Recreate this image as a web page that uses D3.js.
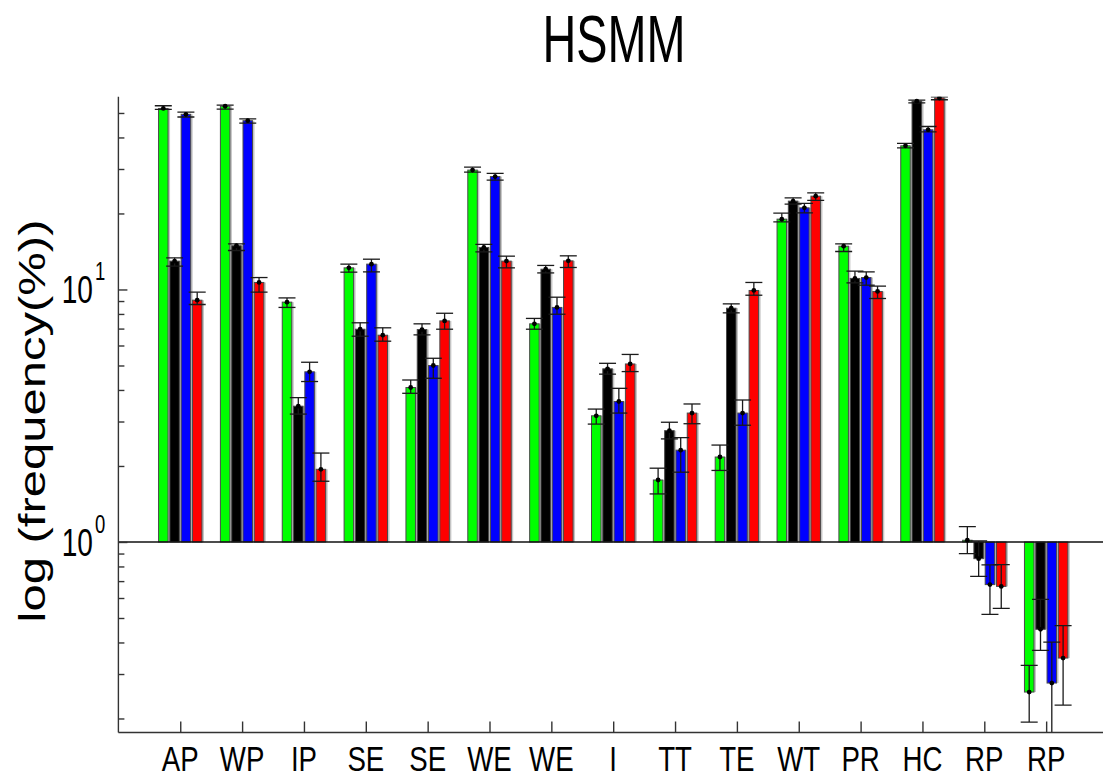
<!DOCTYPE html>
<html>
<head>
<meta charset="utf-8">
<script src="https://cdn.jsdelivr.net/npm/d3@7"></script>
<style>
  html, body { margin: 0; padding: 0; background: #fff; }
  svg { display: block; }
  text { font-family: Arial, "Liberation Sans", sans-serif; fill: #000; }
</style>
</head>
<body>
<script>
// ---- data ----
const categories = ["AP","WP","IP","SE","SE","WE","WE","I","TT","TE","WT","PR","HC","RP","RP"];
const seriesNames = ["green","black","blue","red"];
const seriesColors = ["#00ff00","#000000","#0000ff","#ff0000"];

const greenVals = [52.1, 53.2, 8.91, 12.18, 4.09, 29.7, 7.31, 3.16, 1.76, 2.17, 18.99, 14.84, 37.07, 1.016, 0.2545];
const greenHi   = [53.4, 53.7, 9.26, 12.6, 4.38, 30.5, 7.68, 3.36, 1.96, 2.42, 20.06, 15.16, 37.88, 1.151, 0.3247];
const greenLo   = [51.7, 51.8, 8.49, 11.71, 3.88, 29.15, 6.96, 2.93, 1.55, 1.92, 18.53, 14.14, 36.39, 0.90, 0.1936];

const blackVals = [12.95, 14.9, 3.45, 6.96, 6.94, 14.67, 12.03, 4.85, 2.76, 8.43, 22.38, 11.06, 55.7, 0.859, 0.451];
const blackHi   = [13.35, 15.16, 3.73, 7.38, 7.31, 15.08, 12.45, 5.1, 2.98, 8.77, 23.07, 11.82, 56.2, 1.01, 0.593];
const blackLo   = [12.37, 14.27, 3.21, 6.53, 6.61, 14.09, 11.63, 4.62, 2.56, 8.08, 21.78, 10.62, 54.8, 0.731, 0.372];

const blueVals  = [49.4, 46.6, 4.72, 12.6, 5.0, 28.0, 8.49, 3.6, 2.31, 3.24, 21.05, 11.15, 42.88, 0.678, 0.2763];
const blueHi    = [50.4, 47.4, 5.15, 13.18, 5.34, 28.8, 9.32, 4.06, 2.59, 3.65, 21.91, 11.74, 44.2, 0.811, 0.4016];
const blueLo    = [48.2, 45.6, 4.32, 11.74, 4.45, 27.1, 7.98, 3.24, 1.89, 2.9, 20.12, 10.4, 42.1, 0.517, 0.15];

const redVals   = [9.07, 10.66, 1.94, 6.59, 7.51, 12.95, 12.98, 5.07, 3.24, 9.91, 23.42, 9.82, 57.3, 0.667, 0.347];
const redHi     = [9.76, 11.15, 2.25, 7.05, 8.05, 13.55, 13.59, 5.53, 3.52, 10.66, 24.13, 10.31, 57.98, 0.813, 0.4665];
const redLo     = [8.72, 9.76, 1.74, 6.24, 6.96, 12.18, 12.22, 4.73, 2.94, 9.49, 22.52, 9.21, 56.4, 0.546, 0.226];

const yMajorTicks = [1, 10];
const yMinorTicks = [0.2,0.3,0.4,0.5,0.6,0.7,0.8,0.9,2,3,4,5,6,7,8,9,20,30,40,50];
const titleText = "HSMM";
const yLabelText = "log (frequency(%))";

(function () {
// ---- layout ----
const W = 1103, H = 779;
const pLeft = 118.4, pTop = 96.7, pBottom = 732.5, pRight = 1108;
const barPitch = 11.3, barW = 9.5, capHalf = 8.5;
const sx = 0.74; // horizontal squeeze of the original figure's text

const svg = d3.select("body").append("svg").attr("width", W).attr("height", H);

const x = d3.scaleLinear().domain([0, 16]).range([pLeft, pRight]);
const y = d3.scaleLog().domain([0.176, 58]).range([pBottom, pTop]);

svg.append("defs").append("clipPath").attr("id", "plotclip")
  .append("rect").attr("x", pLeft).attr("y", pTop).attr("width", pRight - pLeft).attr("height", pBottom - pTop);

const series = [
  {vals: greenVals, hi: greenHi, lo: greenLo},
  {vals: blackVals, hi: blackHi, lo: blackLo},
  {vals: blueVals, hi: blueHi, lo: blueLo},
  {vals: redVals, hi: redHi, lo: redLo}
];

const plot = svg.append("g").attr("clip-path", "url(#plotclip)");

// bars
const y1 = y(1);
categories.forEach((c, i) => {
  series.forEach((s, k) => {
    const cx = x(i + 1) + (k - 1.5) * barPitch;
    const v = s.vals[i];
    const yt = Math.min(y(v), y1), yb = Math.max(y(v), y1);
    plot.append("rect").attr("x", cx - barW / 2 + 2).attr("y", yt)
      .attr("width", barW).attr("height", Math.max(yb - yt, 0.5))
      .attr("fill", "#c4c4c4");
    plot.append("rect").attr("x", cx - barW / 2).attr("y", yt)
      .attr("width", barW).attr("height", Math.max(yb - yt, 0.5))
      .attr("fill", seriesColors[k]).attr("stroke", "#4a4a4a").attr("stroke-width", 1);
  });
});

// baseline at 10^0
plot.append("line").attr("x1", pLeft).attr("x2", pRight).attr("y1", y1).attr("y2", y1)
  .attr("stroke", "#111").attr("stroke-width", 1.4);

// error bars
categories.forEach((c, i) => {
  series.forEach((s, k) => {
    const cx = x(i + 1) + (k - 1.5) * barPitch;
    const g = plot.append("g").attr("stroke", "#1a1a1a").attr("stroke-width", 1.3);
    g.append("line").attr("x1", cx).attr("x2", cx).attr("y1", y(s.hi[i])).attr("y2", y(s.lo[i]));
    [s.hi[i], s.lo[i]].forEach(e => {
      g.append("line").attr("x1", cx - capHalf).attr("x2", cx + capHalf).attr("y1", y(e)).attr("y2", y(e));
    });
    plot.append("circle").attr("cx", cx).attr("cy", y(s.vals[i])).attr("r", 2.4).attr("fill", "#000");
  });
});

// axes
const yAxisMinor = d3.axisLeft(y).tickValues(yMinorTicks).tickSizeInner(-6).tickSizeOuter(0).tickFormat("");
const yAxisMajor = d3.axisLeft(y).tickValues(yMajorTicks).tickSizeInner(-9).tickSizeOuter(0).tickFormat("");
const ga = svg.append("g").attr("transform", `translate(${pLeft},0)`).call(yAxisMinor);
svg.append("g").attr("transform", `translate(${pLeft},0)`).call(yAxisMajor).select(".domain").remove();
ga.select(".domain").attr("d", `M0,${pTop}V${pBottom}`);

const xAxis = d3.axisBottom(x).tickValues(d3.range(1, categories.length + 1)).tickSizeInner(-11).tickSizeOuter(0).tickFormat("");
const gx = svg.append("g").attr("transform", `translate(0,${pBottom})`).call(xAxis);
gx.select(".domain").attr("d", `M${pLeft},0H${pRight}`);

svg.selectAll(".domain, .tick line").attr("stroke", "#333").attr("stroke-width", 1.4);

// y tick labels (10^k)
yMajorTicks.forEach(t => {
  const ty = y(t);
  svg.append("text").attr("transform", `translate(93,${ty + 13.8}) scale(${sx},1)`)
    .attr("text-anchor", "end").attr("font-size", 38).text("10");
  svg.append("text").attr("transform", `translate(95,${ty - 9}) scale(${sx},1)`)
    .attr("text-anchor", "start").attr("font-size", 25).text(String(Math.round(Math.log10(t))));
});

// x labels
categories.forEach((c, i) => {
  svg.append("text").attr("transform", `translate(${x(i + 1)},771) scale(0.79,1)`)
    .attr("text-anchor", "middle").attr("font-size", 35).text(c);
});

// title
svg.append("text").attr("transform", `translate(614,61.7) scale(0.71,1)`)
  .attr("text-anchor", "middle").attr("font-size", 66).text(titleText);

// y label
svg.append("text").attr("transform", `translate(45,421) scale(0.75,1) rotate(-90)`)
  .attr("text-anchor", "middle").attr("font-size", 49).text(yLabelText);
})();
</script>
</body>
</html>
